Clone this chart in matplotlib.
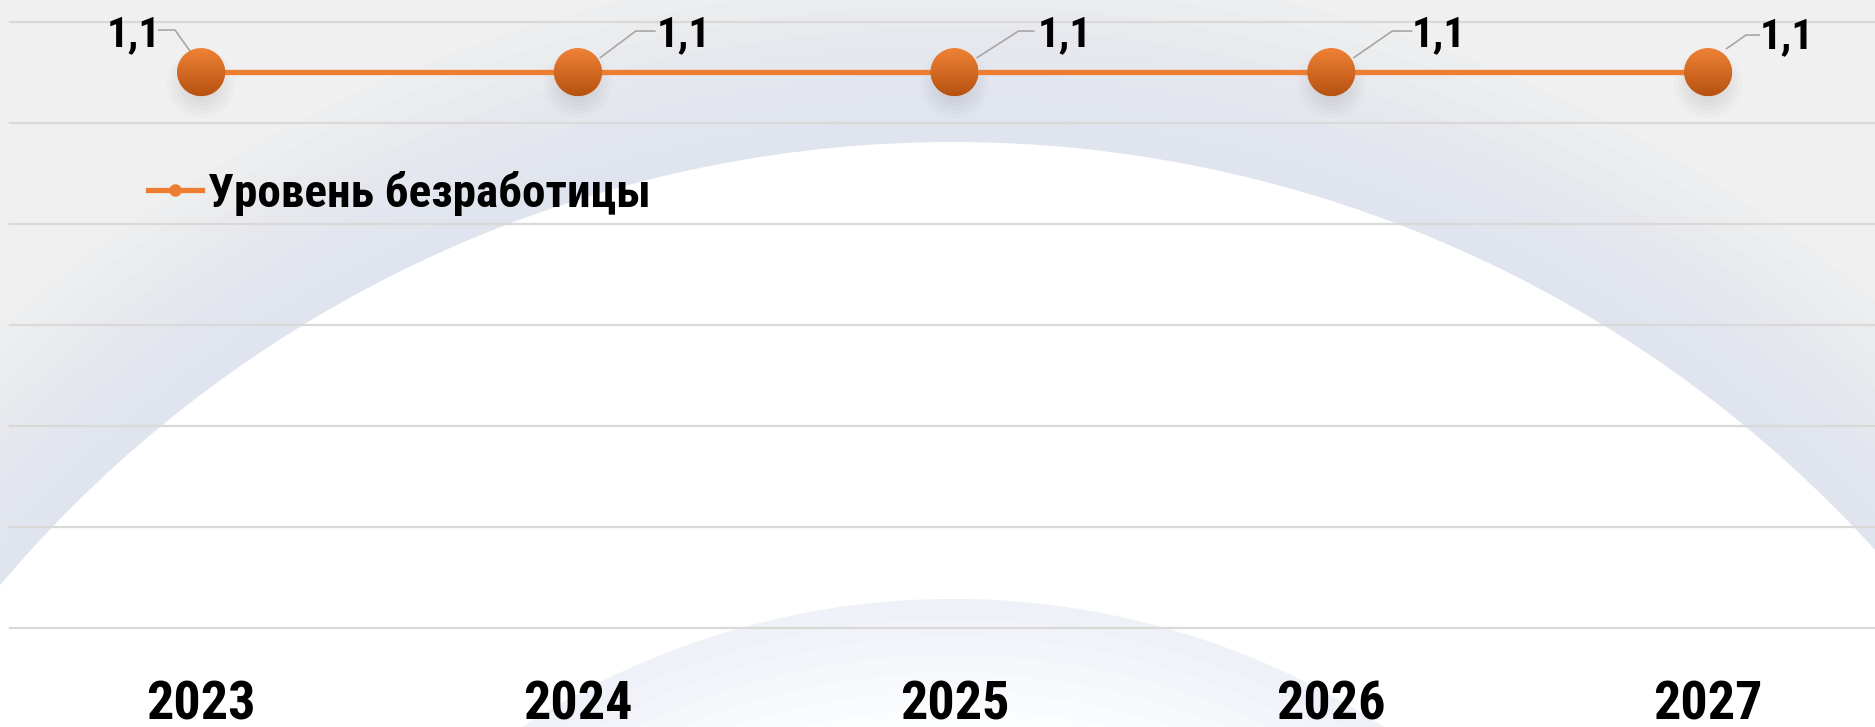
import numpy as np
import matplotlib
matplotlib.use("Agg")
import matplotlib.pyplot as plt
from matplotlib.patches import Circle, Wedge, Ellipse
from matplotlib.lines import Line2D
from matplotlib.font_manager import FontProperties, fontManager
from matplotlib.colors import LinearSegmentedColormap

# ---- data ----
years = ["2023", "2024", "2025", "2026", "2027"]
unemployment = [1.1, 1.1, 1.1, 1.1, 1.1]
value_labels = ["1,1", "1,1", "1,1", "1,1", "1,1"]
series_name = "Уровень безработицы"

# ---- font: pick the narrowest bold face that is installed ----
def _w(v):
    if isinstance(v, (int, float)):
        return v
    return {"bold": 700, "heavy": 800, "black": 900, "semibold": 600, "demibold": 600,
            "extra bold": 800, "normal": 400, "regular": 400}.get(str(v).lower(), 400)

fam_rank = {"Noto Sans": 0, "Roboto": 1, "Open Sans": 2, "Liberation Sans": 3, "DejaVu Sans": 4}
best = None
for f in fontManager.ttflist:
    fn = f.fname.lower().replace("-", "").replace("_", "")
    nm = f.name.lower()
    if "ultracondensed" in fn or "extracondensed" in fn:
        srank = 0
    elif "semicondensed" in fn:
        srank = 2
    elif "condensed" in fn or "narrow" in fn or "condensed" in nm or "narrow" in nm or str(f.stretch) == "condensed":
        srank = 1
    else:
        continue
    if f.style != "normal" or "italic" in fn:
        continue
    w = _w(f.weight)
    if w < 600 or w > 800:
        continue
    fr = None
    for k, v in fam_rank.items():
        if f.name.startswith(k):
            fr = v
    if fr is None:
        continue
    key = (srank, abs(w - 700), fr)
    if best is None or key < best[0]:
        best = (key, f.fname)

def fp(size):
    if best is not None:
        return FontProperties(fname=best[1], size=size)
    return FontProperties(family="DejaVu Sans", weight="bold", size=size)

# ---- layout (pixels) ----
W, H = 1875, 727
DPI = 100

fig = plt.figure(figsize=(W / DPI, H / DPI), dpi=DPI)
fig.patch.set_facecolor("#f0f0f0")

# background decoration
bg = fig.add_axes([0, 0, 1, 1], zorder=-5)
bg.set_xlim(0, W)
bg.set_ylim(H, 0)
bg.axis("off")
cx, cy = 953, 1388
R_out = 1246
R_in = 789
blue = "#d3dbee"
for k in range(8):
    bg.add_patch(Circle((cx, cy), R_out + 180 - k * 22, facecolor=blue, edgecolor="none", alpha=0.07))
bg.add_patch(Circle((cx, cy), R_out, facecolor="white", edgecolor="none"))
for k in range(7):
    bg.add_patch(Wedge((cx, cy), R_in, 0, 360, width=20 + k * 18, facecolor=blue, edgecolor="none", alpha=0.05))

# main axes
left, bottom = 10, 727 - 628
ax = fig.add_axes([left / W, bottom / H, (W - left) / W, 606.5 / H])
ax.patch.set_alpha(0)
px_per_unit = 376.75
xmin = -(201 - left) / px_per_unit
xmax = xmin + (W - left) / px_per_unit
ax.set_xlim(xmin, xmax)
ax.set_ylim(0, 1.2)
ax.set_yticks(np.round(np.arange(0, 1.21, 0.2), 2))
ax.yaxis.grid(True, color="#d9d9d9", linewidth=1.6)
for gl in ax.get_ygridlines():
    gl.set_clip_on(False)
ax.set_yticklabels([])
ax.tick_params(axis="y", length=0)
for s in ax.spines.values():
    s.set_visible(False)

x = np.arange(len(years))
ax.set_xticks(x)
ax.set_xticklabels(years, fontproperties=fp(39), color="black")
ax.tick_params(axis="x", length=0, pad=37)

sx = (xmax - xmin) / (W - left)   # data per px, x
sy = 1.2 / 606.5                   # data per px, y

# shadows
for xi, yi in zip(x, unemployment):
    for k in range(7):
        r = 34 - k * 4
        ax.add_patch(Ellipse((xi, yi - 12 * sy), 2 * r * sx, 2 * r * sy,
                             facecolor="#808080", edgecolor="none", alpha=0.035, zorder=2))

line, = ax.plot(x, unemployment, color="#ed7d31", linewidth=3.8, marker="o",
                markersize=34, markerfacecolor="#d0651f", markeredgewidth=0, zorder=3)

# gradient fill on markers
grad = np.linspace(0, 1, 64).reshape(-1, 1)
cmap = LinearSegmentedColormap.from_list("og", ["#ef8236", "#b65110"])
for xi, yi in zip(x, unemployment):
    w, h = 48 * sx, 48 * sy
    el = Ellipse((xi, yi), w, h, facecolor="none", edgecolor="none", zorder=4)
    ax.add_patch(el)
    im = ax.imshow(grad, cmap=cmap, extent=(xi - w / 2, xi + w / 2, yi - h / 2, yi + h / 2),
                   aspect="auto", zorder=4, interpolation="bilinear", origin="upper")
    im.set_clip_path(el)
ax.set_xlim(xmin, xmax)
ax.set_ylim(0, 1.2)

# data labels with leader lines (pixel offsets)
label_dx = [-67, 106, 110, 108, 79]
label_dy = [37, 37, 37, 37, 35]
leaders = [
    [(-43, 42), (-26, 42), (-11, 21)],
    [(78, 41), (58, 41), (22, 14)],
    [(80, 41), (64, 41), (22, 14)],
    [(81, 41), (61, 41), (22, 14)],
    [(52, 37), (38, 37), (18, 23)],
]
lab_font = fp(31)
for xi, yi, lab, dx, dy, ld in zip(x, unemployment, value_labels, label_dx, label_dy, leaders):
    ax.text(xi + dx * sx, yi + dy * sy, lab, ha="center", va="center",
            fontproperties=lab_font, color="black", zorder=6)
    ax.plot([xi + p[0] * sx for p in ld], [yi + p[1] * sy for p in ld],
            color="#a6a6a6", linewidth=1.2, zorder=2.5, solid_capstyle="butt")

# legend
handle = Line2D([], [], color="#ed7d31", linewidth=3.8, marker="o", markersize=9,
                markerfacecolor="#ed7d31", markeredgewidth=0, label=series_name)
ax.legend(handles=[handle], loc="center left", bbox_to_anchor=(148 / W, 1 - 193 / H),
          bbox_transform=fig.transFigure, frameon=False,
          prop=fp(34),
          handlelength=1.15, handletextpad=0.12, borderpad=0, borderaxespad=0)

fig.savefig("out.png", dpi=DPI, facecolor=fig.get_facecolor())
